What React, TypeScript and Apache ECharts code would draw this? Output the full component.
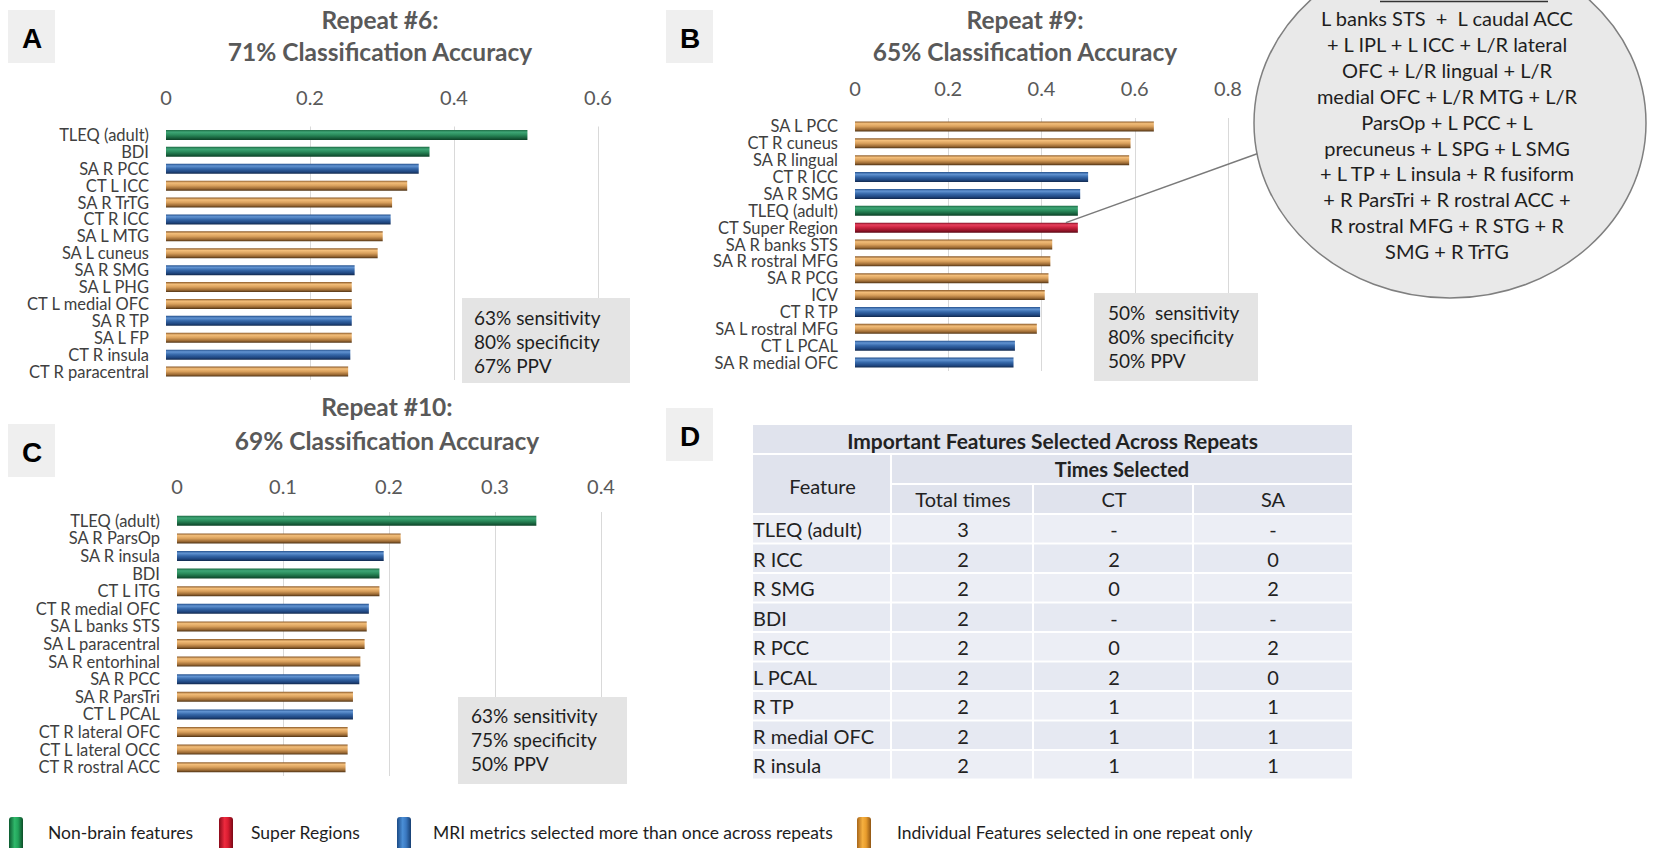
import React, { useEffect, useRef } from "react";
import * as echarts from "echarts";

const FONT = "Lato, 'Noto Sans', sans-serif";

// Panel A – Repeat #6
const catA = ["TLEQ (adult)", "BDI", "SA R PCC", "CT L ICC", "SA R TrTG", "CT R ICC", "SA L MTG", "SA L cuneus", "SA R SMG", "SA L PHG", "CT L medial OFC", "SA R TP", "SA L FP", "CT R insula", "CT R paracentral"];
const valA = [0.502, 0.366, 0.351, 0.335, 0.314, 0.312, 0.301, 0.294, 0.262, 0.258, 0.258, 0.258, 0.258, 0.256, 0.253];
const typeA = ["N", "N", "M", "I", "I", "M", "I", "I", "M", "I", "I", "M", "I", "M", "I"];

// Panel B – Repeat #9
const catB = ["SA L PCC", "CT R cuneus", "SA R lingual", "CT R ICC", "SA R SMG", "TLEQ (adult)", "CT Super Region", "SA R banks STS", "SA R rostral MFG", "SA R PCG", "ICV", "CT R TP", "SA L rostral MFG", "CT L PCAL", "SA R medial OFC"];
const valB = [0.641, 0.591, 0.588, 0.5, 0.483, 0.478, 0.478, 0.423, 0.419, 0.415, 0.407, 0.397, 0.39, 0.343, 0.34];
const typeB = ["I", "I", "I", "M", "M", "N", "S", "I", "I", "I", "I", "M", "I", "M", "M"];

// Panel C – Repeat #10
const catC = ["TLEQ (adult)", "SA R ParsOp", "SA R insula", "BDI", "CT L ITG", "CT R medial OFC", "SA L banks STS", "SA L paracentral", "SA R entorhinal", "SA R PCC", "SA R ParsTri", "CT L PCAL", "CT R lateral OFC", "CT L lateral OCC", "CT R rostral ACC"];
const valC = [0.339, 0.211, 0.195, 0.191, 0.191, 0.181, 0.179, 0.177, 0.173, 0.172, 0.166, 0.166, 0.161, 0.161, 0.159];
const typeC = ["N", "I", "M", "N", "I", "M", "I", "I", "I", "M", "I", "M", "I", "I", "I"];

const axisMax = [0.6, 0.8, 0.4];
const axisInterval = [0.2, 0.2, 0.1];

const titles = [
  ["Repeat #6:", "71% Classification Accuracy"],
  ["Repeat #9:", "65% Classification Accuracy"],
  ["Repeat #10:", "69% Classification Accuracy"],
];
const stats = [
  ["63% sensitivity", "80% specificity", "67% PPV"],
  ["50%  sensitivity", "80% specificity", "50% PPV"],
  ["63% sensitivity", "75% specificity", "50% PPV"],
];
const panelLetters = ["A", "B", "C", "D"];

const circleLines = [
  "L banks STS  +  L caudal ACC",
  "+ L IPL + L ICC + L/R lateral",
  "OFC + L/R lingual + L/R",
  "medial OFC + L/R MTG + L/R",
  "ParsOp + L PCC + L",
  "precuneus + L SPG + L SMG",
  "+ L TP + L insula + R fusiform",
  "+ R ParsTri + R rostral ACC +",
  "R rostral MFG + R STG + R",
  "SMG + R TrTG",
];

const tableTitle = "Important Features Selected Across Repeats";
const tableFeatures = ["TLEQ (adult)", "R ICC", "R SMG", "BDI", "R PCC", "L PCAL", "R TP", "R medial OFC", "R insula"];
const tableTotal = ["3", "2", "2", "2", "2", "2", "2", "2", "2"];
const tableCT = ["-", "2", "0", "-", "0", "2", "1", "1", "1"];
const tableSA = ["-", "0", "2", "-", "2", "0", "1", "1", "1"];

const legendItems = [
  { key: "N", label: "Non-brain features" },
  { key: "S", label: "Super Regions" },
  { key: "M", label: "MRI metrics selected more than once across repeats" },
  { key: "I", label: "Individual Features selected in one repeat only" },
];

const barStops: Record<string, [number, string][]> = {
  N: [[0, "#1d6b44"], [0.22, "#3ea676"], [0.5, "#2a8b5b"], [0.8, "#17603c"], [1, "#0c3f25"]],
  M: [[0, "#24508c"], [0.22, "#6294d2"], [0.5, "#3567a8"], [0.8, "#1f4680"], [1, "#12294d"]],
  I: [[0, "#8a5a2a"], [0.22, "#f3be7a"], [0.5, "#d9a05c"], [0.8, "#9c6a34"], [1, "#4e3214"]],
  S: [[0, "#7d0f22"], [0.22, "#e8405c"], [0.5, "#c8223e"], [0.8, "#921428"], [1, "#5c0815"]],
};
const swatchStops: Record<string, [number, string][]> = {
  N: [[0, "#0d5a30"], [0.4, "#2fb86a"], [0.65, "#22a35a"], [1, "#0d4d28"]],
  S: [[0, "#8a0a1a"], [0.4, "#ee2a3e"], [0.65, "#d81c30"], [1, "#7a0816"]],
  M: [[0, "#1b4a86"], [0.4, "#4b8fd6"], [0.65, "#3a78c0"], [1, "#173f72"]],
  I: [[0, "#a8661a"], [0.4, "#f5b040"], [0.65, "#e89c2c"], [1, "#8f5514"]],
};

const mkGrad = (stops: [number, string][], horizontal = false) =>
  new echarts.graphic.LinearGradient(0, 0, horizontal ? 1 : 0, horizontal ? 0 : 1,
    stops.map(([offset, color]) => ({ offset, color })));

export default function App() {
  const ref = useRef<HTMLDivElement>(null);

  useEffect(() => {
    const chart = echarts.init(ref.current!, null, { renderer: "svg" });

    const grids = [
      { left: 166, top: 126.5, width: 432, height: 253.5 },
      { left: 855, top: 118, width: 373, height: 253 },
      { left: 177, top: 512, width: 424, height: 264 },
    ];
    const labelMargins = [19.5, 20, 16];
    const cats = [catA, catB, catC];
    const vals = [valA, valB, valC];
    const types = [typeA, typeB, typeC];

    const option: any = {
      animation: false,
      grid: grids,
      xAxis: grids.map((_, i) => ({
        gridIndex: i,
        type: "value",
        position: "top",
        min: 0,
        max: axisMax[i],
        interval: axisInterval[i],
        axisLine: { show: false },
        axisTick: { show: false },
        splitLine: { show: true, showMinLine: false, lineStyle: { color: "#d9d9d9", width: 1 } },
        axisLabel: {
          margin: labelMargins[i],
          color: "#595959",
          fontSize: 20,
          fontFamily: FONT,
          formatter: (v: number) => String(+v.toFixed(2)),
        },
      })),
      yAxis: grids.map((_, i) => ({
        gridIndex: i,
        type: "category",
        data: cats[i],
        inverse: true,
        axisLine: { show: false },
        axisTick: { show: false },
        axisLabel: { interval: 0, margin: 17, color: "#404040", fontSize: 16.5, lineHeight: 14, fontFamily: FONT },
      })),
      series: grids.map((_, i) => ({
        type: "bar",
        xAxisIndex: i,
        yAxisIndex: i,
        barWidth: 10,
        silent: true,
        data: vals[i].map((v, j) => ({ value: v, itemStyle: { color: mkGrad(barStops[types[i][j]]) } })),
      })),
    };
    chart.setOption(option);

    const g: any[] = [];
    const txt = (x: number, y: number, text: string, o: any = {}) =>
      g.push({
        type: "text",
        x,
        y,
        silent: true,
        z: o.z ?? 10,
        style: {
          text,
          fill: o.fill ?? "#222",
          fontSize: o.size ?? 18,
          fontFamily: o.family ?? FONT,
          fontWeight: o.weight ?? "normal",
          align: o.align ?? "left",
          verticalAlign: "middle",
        },
      });
    const rect = (x: number, y: number, w: number, h: number, fill: any, z = 1) =>
      g.push({ type: "rect", silent: true, z, shape: { x, y, width: w, height: h }, style: { fill } });

    // Panel letters
    const letterPos = [[32, 37], [690, 37], [32, 451], [690, 435]];
    letterPos.forEach(([cx, cy], i) => {
      rect(cx - 24, cy - 27, 47, 53, "#efefef");
      txt(cx, cy + 1, panelLetters[i], { size: 28, weight: "bold", family: "'Liberation Sans', Arial, sans-serif", align: "center", fill: "#000" });
    });

    // Titles
    const titlePos = [[380, 19, 51], [1025, 19, 51], [387, 406, 440]];
    titlePos.forEach(([cx, y1, y2], i) => {
      txt(cx, y1, titles[i][0], { size: 24.5, weight: "bold", align: "center", fill: "#595959" });
      txt(cx, y2, titles[i][1], { size: 24.5, weight: "bold", align: "center", fill: "#595959" });
    });

    // Stats boxes
    const statBoxes = [
      [462, 298, 168, 85, 474, 317],
      [1094, 293, 164, 88, 1108, 312],
      [458, 697, 169, 87, 471, 715],
    ];
    statBoxes.forEach(([x, y, w, h, tx, ty], i) => {
      rect(x, y, w, h, "#e4e4e4", 0);
      stats[i].forEach((s, k) => txt(tx, ty + k * 24.3, s, { size: 19, fill: "#1e1e1e" }));
    });

    // Connector from CT Super Region bar to the ellipse
    const p = chart.convertToPixel({ xAxisIndex: 1, yAxisIndex: 1 } as any, [valB[6], catB[6]]) as number[];
    g.push({
      type: "line",
      silent: true,
      z: 5,
      shape: { x1: p[0] - 12, y1: p[1] - 5, x2: 1262, y2: 152 },
      style: { stroke: "#7a7a7a", lineWidth: 1.5 },
    });

    // Ellipse callout
    g.push({
      type: "ellipse",
      silent: true,
      z: 6,
      shape: { cx: 1450, cy: 123, rx: 196, ry: 175 },
      style: { fill: "#e9e9e9", stroke: "#7f7f7f", lineWidth: 1.5 },
    });
    g.push({
      type: "line",
      silent: true,
      z: 7,
      shape: { x1: 1380, y1: 1.5, x2: 1548, y2: 1.5 },
      style: { stroke: "#333", lineWidth: 1.5 },
    });
    circleLines.forEach((s, k) => txt(1447, 18 + k * 25.9, s, { size: 20, align: "center", fill: "#1e1e1e", z: 8 }));

    // Table D
    const colX = [753, 892, 1034, 1194, 1352];
    const gap = 2;
    const headFill = "#e0e3ed";
    rect(753, 425, 1352 - 753, 28, headFill);
    txt((753 + 1352) / 2, 440, tableTitle, { size: 21, weight: "bold", align: "center" });
    rect(753, 455, colX[1] - 753 - gap, 58, headFill);
    txt((753 + colX[1]) / 2, 486, "Feature", { size: 20, align: "center" });
    rect(colX[1], 455, 1352 - colX[1], 28, headFill);
    txt((colX[1] + 1352) / 2, 469, "Times Selected", { size: 20, weight: "bold", align: "center" });
    ["Total times", "CT", "SA"].forEach((s, k) => {
      rect(colX[k + 1], 485, colX[k + 2] - colX[k + 1] - (k < 2 ? gap : 0), 28, headFill);
      txt((colX[k + 1] + colX[k + 2]) / 2, 499, s, { size: 20, align: "center" });
    });
    tableFeatures.forEach((f, r) => {
      const y = 515 + r * 29.5;
      const fill = r % 2 === 0 ? "#eceef5" : "#e6e9f2";
      for (let k = 0; k < 4; k++) rect(colX[k], y, colX[k + 1] - colX[k] - (k < 3 ? gap : 0), 27.5, fill);
      const cy = y + 14;
      txt(753, cy, f, { size: 20 });
      txt((colX[1] + colX[2]) / 2, cy, tableTotal[r], { size: 20, align: "center" });
      txt((colX[2] + colX[3]) / 2, cy, tableCT[r], { size: 20, align: "center" });
      txt((colX[3] + colX[4]) / 2, cy, tableSA[r], { size: 20, align: "center" });
    });

    // Legend
    const legendX = [[9, 48], [219, 251], [397, 433], [857, 897]];
    legendItems.forEach((it, i) => {
      const [sx, tx] = legendX[i];
      g.push({
        type: "rect",
        silent: true,
        shape: { x: sx, y: 817, width: 14, height: 31, r: [3, 3, 0, 0] },
        style: { fill: mkGrad(swatchStops[it.key], true) },
      });
      txt(tx, 832, it.label, { size: 17.5, fill: "#1e1e1e" });
    });

    chart.setOption({ graphic: g });

    return () => chart.dispose();
  }, []);

  return (
    <div
      ref={ref}
      style={{ position: "fixed", left: 0, top: 0, width: 1655, height: 848, background: "#fff" }}
    />
  );
}
